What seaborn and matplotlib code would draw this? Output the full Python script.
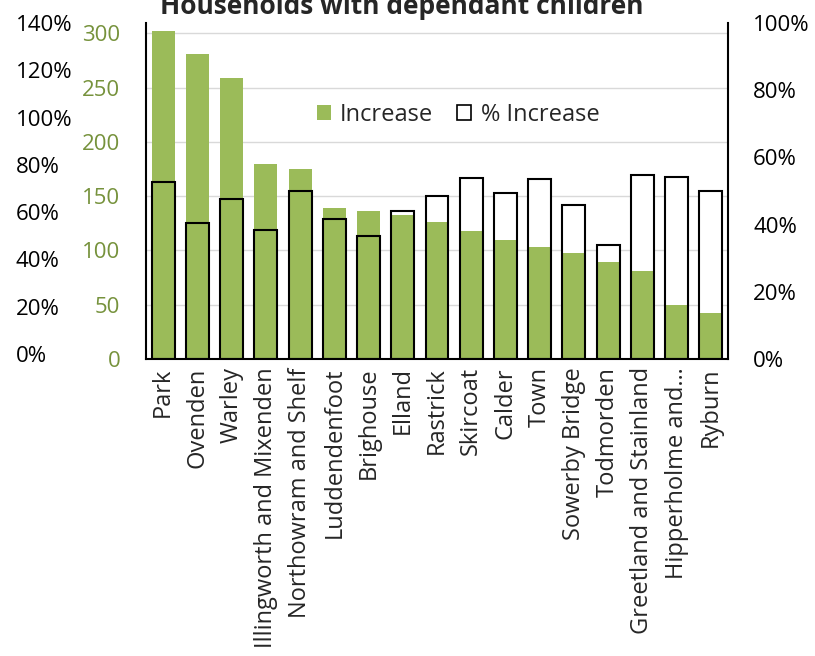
import matplotlib
matplotlib.use("Agg")
import matplotlib.pyplot as plt
import seaborn as sns
import pandas as pd
from matplotlib.patches import Patch
from matplotlib.ticker import PercentFormatter

# Ward-level change in households with dependant children
categories = [
    "Park", "Ovenden", "Warley", "Illingworth and Mixenden",
    "Northowram and Shelf", "Luddendenfoot", "Brighouse", "Elland",
    "Rastrick", "Skircoat", "Calder", "Town", "Sowerby Bridge",
    "Todmorden", "Greetland and Stainland", "Hipperholme and\u2026", "Ryburn",
]
increase = [302, 281, 259, 180, 175, 139, 136, 133, 126, 118, 110, 103, 98, 89, 81, 50, 42]
pct_increase = [0.528, 0.405, 0.477, 0.385, 0.500, 0.417, 0.366, 0.440, 0.486,
                0.540, 0.495, 0.536, 0.457, 0.338, 0.547, 0.542, 0.499]

count_ticks = [0, 50, 100, 150, 200, 250, 300]
pct_ticks = [0, 0.2, 0.4, 0.6, 0.8, 1.0]
outer_ticks = [0, 0.2, 0.4, 0.6, 0.8, 1.0, 1.2, 1.4]

GREEN = "#9BBB59"
GREEN_TXT = "#76923C"
GRID = "#D9D9D9"
FS = 16
XFS = 17

sns.set_theme(style="white")
plt.rcParams["font.family"] = ["Open Sans", "DejaVu Sans"]

df = pd.DataFrame({"area": categories, "increase": increase, "pct": pct_increase})

fig = plt.figure(figsize=(8.15, 6.56), dpi=100)
ax = fig.add_axes([146 / 815, 1 - 359 / 656, 582 / 815, 336 / 656])

# layered axes: grid -> white pct bars -> green count bars -> pct outlines -> outer scale
ax_white = ax.twinx()
ax_green = ax.twinx()
ax_edge = ax.twinx()
ax_outer = ax.twinx()
for z, a in enumerate([ax, ax_white, ax_green, ax_edge, ax_outer]):
    a.set_zorder(z)
    for s in a.spines.values():
        s.set_visible(False)
    if z > 0:
        a.patch.set_visible(False)

COUNT_MAX = 309.5
BAR_W = 0.67

sns.barplot(data=df, x="area", y="pct", ax=ax_white, color="white",
            saturation=1, width=BAR_W, linewidth=0, errorbar=None)
sns.barplot(data=df, x="area", y="increase", ax=ax_green, color=GREEN,
            saturation=1, width=BAR_W, linewidth=0, errorbar=None)
sns.barplot(data=df, x="area", y="pct", ax=ax_edge, color="black", fill=False,
            width=BAR_W, linewidth=1.5, errorbar=None)

# base axis: count scale with gridlines and green labels
ax.set_ylim(0, COUNT_MAX)
ax.set_yticks(count_ticks)
ax.yaxis.grid(True, color=GRID, linewidth=1.0)
ax.set_axisbelow(True)
ax.tick_params(axis="y", length=0, pad=18.5, labelcolor=GREEN_TXT, labelsize=FS)

ax_green.set_ylim(0, COUNT_MAX)
ax_green.set_yticks([])

ax_white.set_ylim(0, 1)
ax_white.set_yticks([])

# percentage scale on the right with the visible frame lines
ax_edge.set_ylim(0, 1)
ax_edge.set_yticks(pct_ticks)
ax_edge.yaxis.set_major_formatter(PercentFormatter(1.0, decimals=0))
ax_edge.tick_params(axis="y", length=0, pad=18, labelsize=FS, labelcolor="black")
for side in ["left", "right", "bottom"]:
    ax_edge.spines[side].set_visible(True)
    ax_edge.spines[side].set_color("black")
    ax_edge.spines[side].set_linewidth(1.5)

# outer left percentage scale
ax_outer.yaxis.tick_left()
ax_outer.set_ylim(-0.021, 1.399)
ax_outer.set_yticks(outer_ticks)
ax_outer.yaxis.set_major_formatter(PercentFormatter(1.0, decimals=0))
ax_outer.tick_params(axis="y", length=0, pad=94, labelsize=FS, labelcolor="black")
for t in ax_outer.get_yticklabels():
    t.set_horizontalalignment("left")

for a in [ax, ax_white, ax_green, ax_edge, ax_outer]:
    a.set_xlabel("")
    a.set_ylabel("")

ax.set_xlim(-0.5, len(categories) - 0.5)
ax.set_xticks(range(len(categories)))
ax.set_xticklabels(categories, rotation=90, fontsize=XFS)
ax.tick_params(axis="x", length=0, pad=6)

fig.legend(
    handles=[
        Patch(facecolor=GREEN, edgecolor="none", label="Increase"),
        Patch(facecolor="white", edgecolor="black", linewidth=1.2, label="% Increase"),
    ],
    loc="center", bbox_to_anchor=(458 / 815, 1 - 115 / 656), ncol=2, frameon=False,
    fontsize=17, handlelength=0.6, handleheight=0.6, handletextpad=0.4,
    columnspacing=1.0,
)

fig.text(401.5 / 815, 1 - 14 / 656, "Households with dependant children",
         ha="center", va="baseline", fontsize=19, fontweight="bold")

fig.savefig("out.png", dpi=100)
